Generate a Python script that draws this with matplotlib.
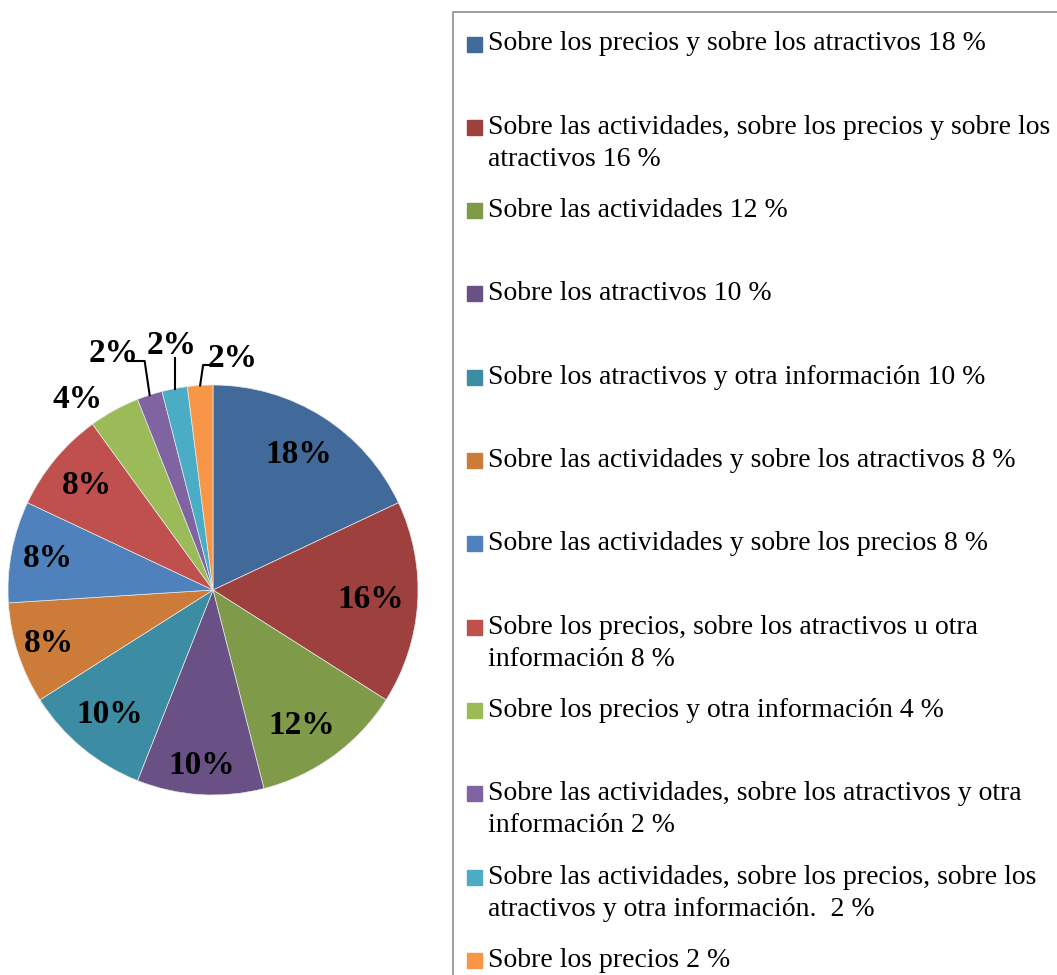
import numpy as np
import matplotlib.pyplot as plt
from matplotlib.patches import Rectangle

# Survey shares (percent)
shares = [18, 16, 12, 10, 10, 8, 8, 8, 4, 2, 2, 2]
categories = [
    "Sobre los precios y sobre los atractivos 18 %",
    "Sobre las actividades, sobre los precios y sobre los\natractivos 16 %",
    "Sobre las actividades 12 %",
    "Sobre los atractivos 10 %",
    "Sobre los atractivos y otra información 10 %",
    "Sobre las actividades y sobre los atractivos 8 %",
    "Sobre las actividades y sobre los precios 8 %",
    "Sobre los precios, sobre los atractivos u otra\ninformación 8 %",
    "Sobre los precios y otra información 4 %",
    "Sobre las actividades, sobre los atractivos y otra\ninformación 2 %",
    "Sobre las actividades, sobre los precios, sobre los\natractivos y otra información.  2 %",
    "Sobre los precios 2 %",
]
colors = ['#416A9B', '#9E413E', '#7F9A48', '#695185', '#3C8DA3', '#CC7B38',
          '#4F81BD', '#C0504D', '#9BBB59', '#8064A2', '#4BACC6', '#F79646']

W, H = 1057, 975
plt.rcParams['font.family'] = ['Liberation Serif', 'DejaVu Serif']

fig = plt.figure(figsize=(W / 100, H / 100), dpi=100)
ax = fig.add_axes([0, 0, 1, 1])

# pie laid out in pixel units (y measured upward)
cx, cy, R = 213, H - 590, 205
wedges, _ = ax.pie(shares, colors=colors, startangle=90, counterclock=False,
                   center=(cx, cy), radius=R,
                   wedgeprops=dict(linewidth=0.5, edgecolor='#E8E8E8'))
ax.set_xlim(0, W)
ax.set_ylim(0, H)
ax.set_aspect('equal')
ax.axis('off')

# label placement: (radial factor, angle shift in degrees) per slice
label_pos = [(0.78, 0), (0.77, 0), (0.79, -3), (0.86, 0), (0.79, 0), (0.84, 0),
             (0.82, 0), (0.80, 0), (1.14, 6.6), (1.25, 4.9), (1.21, -1.3),
             (1.135, -8.5)]
for w, v, (f, da) in zip(wedges, shares, label_pos):
    mid = np.deg2rad((w.theta1 + w.theta2) / 2 + da)
    ax.text(cx + f * R * np.cos(mid), cy + f * R * np.sin(mid), f"{v}%",
            ha='center', va='center', fontsize=24, fontweight='bold')

# leader lines for the small outer slices
def edge(w):
    a = np.deg2rad((w.theta1 + w.theta2) / 2)
    return cx + R * np.cos(a), cy + R * np.sin(a)

x0, y0 = edge(wedges[9])
ax.plot([x0, x0 - 5, x0 - 22], [y0, H - 361, H - 361], color='black', lw=1.5)
x0, y0 = edge(wedges[10])
ax.plot([x0, x0], [y0, H - 358], color='black', lw=1.5)
x0, y0 = edge(wedges[11])
ax.plot([x0, x0 + 3, x0 + 16], [y0, H - 365, H - 365], color='black', lw=1.5)

# legend frame and entries
ax.add_patch(Rectangle((453, -10), 700, H - 12 + 10, fill=False,
                       edgecolor='#8C8C8C', lw=1.2, clip_on=False))
for i, (lab, c) in enumerate(zip(categories, colors)):
    y = H - (44 + i * 83.3)
    ax.add_patch(Rectangle((467, y - 7.5), 15, 15, color=c))
    lines = lab.split('\n')
    for k, line in enumerate(lines):
        ax.text(488, y - 32 * k, line, ha='left', va='center', fontsize=20)

fig.savefig('out.png', dpi=100)
